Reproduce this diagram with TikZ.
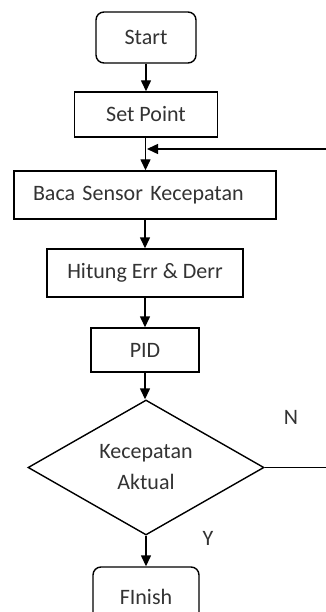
\documentclass[tikz,border=0pt]{standalone}
\usepackage{fontspec}
\setmainfont{Carlito}
\usetikzlibrary{shapes.geometric,arrows.meta}
\begin{document}
\begin{tikzpicture}[x=1pt,y=-1pt,
  every node/.style={font=\fontsize{22}{31}\selectfont, text=black!80},
  box/.style={draw=black, line width=1.4pt, minimum height=46pt, inner sep=0pt},
  term/.style={box, rounded corners=8pt},
  dec/.style={draw=black, line width=1.4pt, diamond, aspect=1.75, inner sep=0pt, minimum width=236pt, minimum height=135pt, align=center},
  flow/.style={line width=1.4pt, -{Triangle[length=11pt,width=10pt]}},
  plain/.style={line width=1.4pt}]
\clip (0,0) rectangle (326,612);
\fill[white] (0,0) rectangle (326,612);
\node[term, minimum width=100pt, minimum height=51pt] (start) at (146,37.5) {Start};
\node[box, minimum width=143pt, minimum height=45pt] (sp) at (146,114.5) {Set Point};
\node[box, minimum height=48pt, text width=224pt, inner xsep=19pt, align=left] (baca) at (145,195) {Baca Sensor Kecepatan};
\node[box, minimum width=196pt, minimum height=48pt] (hit) at (145,273) {Hitung Err \& Derr};
\node[box, minimum width=108pt, minimum height=44pt] (pid) at (145,350) {PID};
\node[dec] (dec) at (146,467.5) {Kecepatan\\Aktual};
\node[term, minimum width=106pt, minimum height=60pt] (fin) at (146,597) {FInish};
\node (N) at (291,417) {N};
\node (Y) at (208,538) {Y};
\coordinate (j) at (147,149);
\coordinate (eN) at (326,467.5);
\coordinate (eT) at (326,149);
\draw[flow] (start.south) -- (start.south |- sp.north);
\draw[flow] (sp.south -| 145.5,0) -- (145.5,0 |- baca.north);
\draw[flow] (baca.south) -- (baca.south |- hit.north);
\draw[flow] (hit.south) -- (hit.south |- pid.north);
\draw[flow] (pid.south) -- (pid.south |- dec.north);
\draw[flow] (dec.south) -- (dec.south |- fin.north);
\draw[plain] (dec.east) -- (eN);
\draw[flow] (eT) -- (j);
\end{tikzpicture}
\end{document}
